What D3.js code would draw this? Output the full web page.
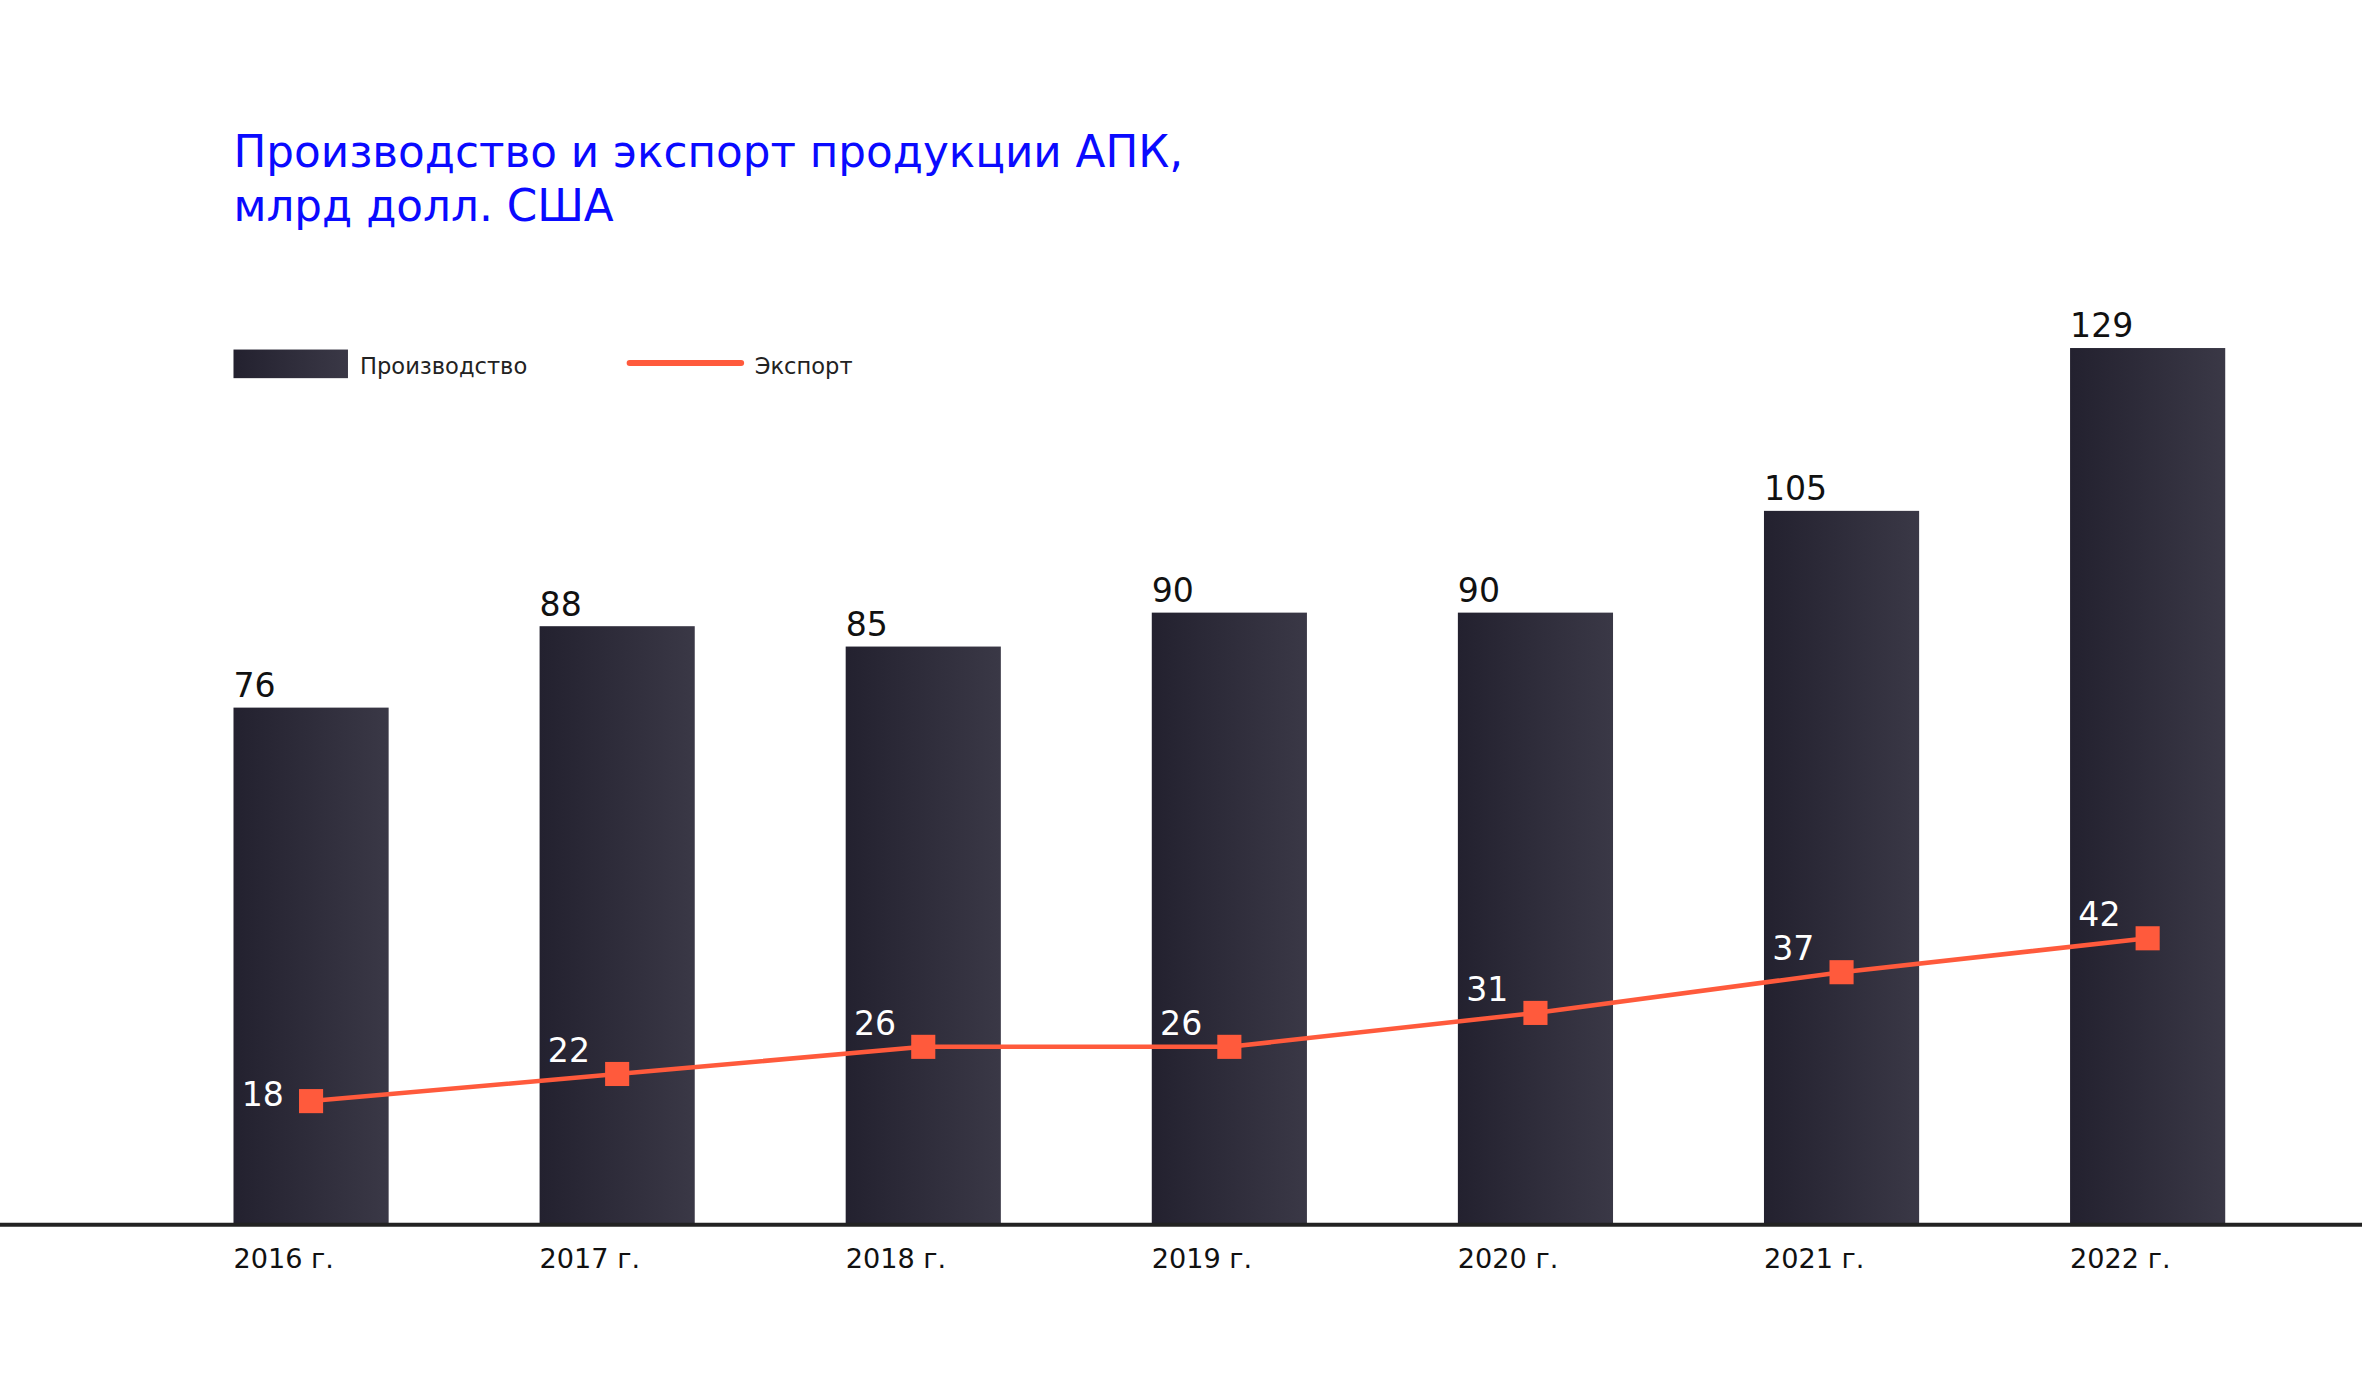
<!DOCTYPE html>
<html>
<head>
<meta charset="utf-8">
<script src="https://cdn.jsdelivr.net/npm/d3@7"></script>
<style>
  body { margin: 0; background: #fff; }
  svg { display: block; font-family: "DejaVu Sans", "Noto Sans", sans-serif; }
</style>
</head>
<body>
<div class="chart"></div>
<script>
// Data
const years = ['2016 г.', '2017 г.', '2018 г.', '2019 г.', '2020 г.', '2021 г.', '2022 г.'];
const production = [76, 88, 85, 90, 90, 105, 129];
const exports = [18, 22, 26, 26, 31, 37, 42];

// Layout in reference units (scaled to window by viewBox)
const W = 1568, H = 922;
const baseY = 812, left = 155, step = 203.2, barW = 103;

const svg = d3.select('.chart')
    .append('svg')
        .attr('width', 2362)
        .attr('height', 1389)
        .attr('viewBox', `0 0 ${W} ${H}`);

const grad = svg.append('defs').append('linearGradient')
    .attr('id', 'barGrad');
grad.append('stop').attr('offset', '0%').attr('stop-color', '#23212f');
grad.append('stop').attr('offset', '100%').attr('stop-color', '#3a3846');

// Scales
const x = d3.scalePoint()
    .domain(years)
    .range([left, left + step * (years.length - 1)]);
const y = d3.scaleLinear().domain([0, 129]).range([baseY, 231]);

// Title
svg.append('text')
    .attr('x', 155).attr('y', 111)
    .attr('fill', '#0a0aff')
    .style('font-size', '29px')
    .text('Производство и экспорт продукции АПК,');
svg.append('text')
    .attr('x', 155).attr('y', 147)
    .attr('fill', '#0a0aff')
    .style('font-size', '29px')
    .text('млрд долл. США');

// Legend
svg.append('rect')
    .attr('x', 155).attr('y', 232).attr('width', 76).attr('height', 19)
    .attr('fill', 'url(#barGrad)');
svg.append('text')
    .attr('x', 239).attr('y', 248)
    .attr('fill', '#222').style('font-size', '15px')
    .text('Производство');
svg.append('line')
    .attr('x1', 418).attr('x2', 492).attr('y1', 241).attr('y2', 241)
    .attr('stroke', '#ff5a3c').attr('stroke-width', 4).attr('stroke-linecap', 'round');
svg.append('text')
    .attr('x', 501).attr('y', 248)
    .attr('fill', '#222').style('font-size', '15px')
    .text('Экспорт');

// Bars
svg.selectAll('.bar')
    .data(production)
    .enter()
        .append('rect')
        .attr('class', 'bar')
        .attr('x', (d, i) => x(years[i]))
        .attr('y', d => y(d))
        .attr('width', barW)
        .attr('height', d => baseY - y(d))
        .attr('fill', 'url(#barGrad)');

svg.selectAll('.barLabel')
    .data(production)
    .enter()
        .append('text')
        .attr('x', (d, i) => x(years[i]))
        .attr('y', d => y(d) - 7)
        .attr('fill', '#111')
        .style('font-size', '22px')
        .text(d => d);

// Axis line
svg.append('line')
    .attr('x1', 0).attr('x2', W).attr('y1', baseY + 1).attr('y2', baseY + 1)
    .attr('stroke', '#222').attr('stroke-width', 2.5);

svg.selectAll('.xLabel')
    .data(years)
    .enter()
        .append('text')
        .attr('x', d => x(d))
        .attr('y', 842)
        .attr('fill', '#111')
        .style('font-size', '18px')
        .text(d => d);

// Export line
const cx = i => x(years[i]) + barW / 2;
const line = d3.line().x((d, i) => cx(i)).y(d => y(d));
svg.append('path')
    .datum(exports)
    .attr('d', line)
    .attr('fill', 'none')
    .attr('stroke', '#ff5a3c')
    .attr('stroke-width', 3);

svg.selectAll('.marker')
    .data(exports)
    .enter()
        .append('rect')
        .attr('x', (d, i) => cx(i) - 8)
        .attr('y', d => y(d) - 8)
        .attr('width', 16).attr('height', 16)
        .attr('fill', '#ff5a3c');

svg.selectAll('.expLabel')
    .data(exports)
    .enter()
        .append('text')
        .attr('x', (d, i) => cx(i) - 32)
        .attr('y', (d, i) => y(d) - (i === 0 ? -3 : 8))
        .attr('text-anchor', 'middle')
        .attr('fill', '#fff')
        .style('font-size', '22px')
        .text(d => d);
</script>
</body>
</html>
